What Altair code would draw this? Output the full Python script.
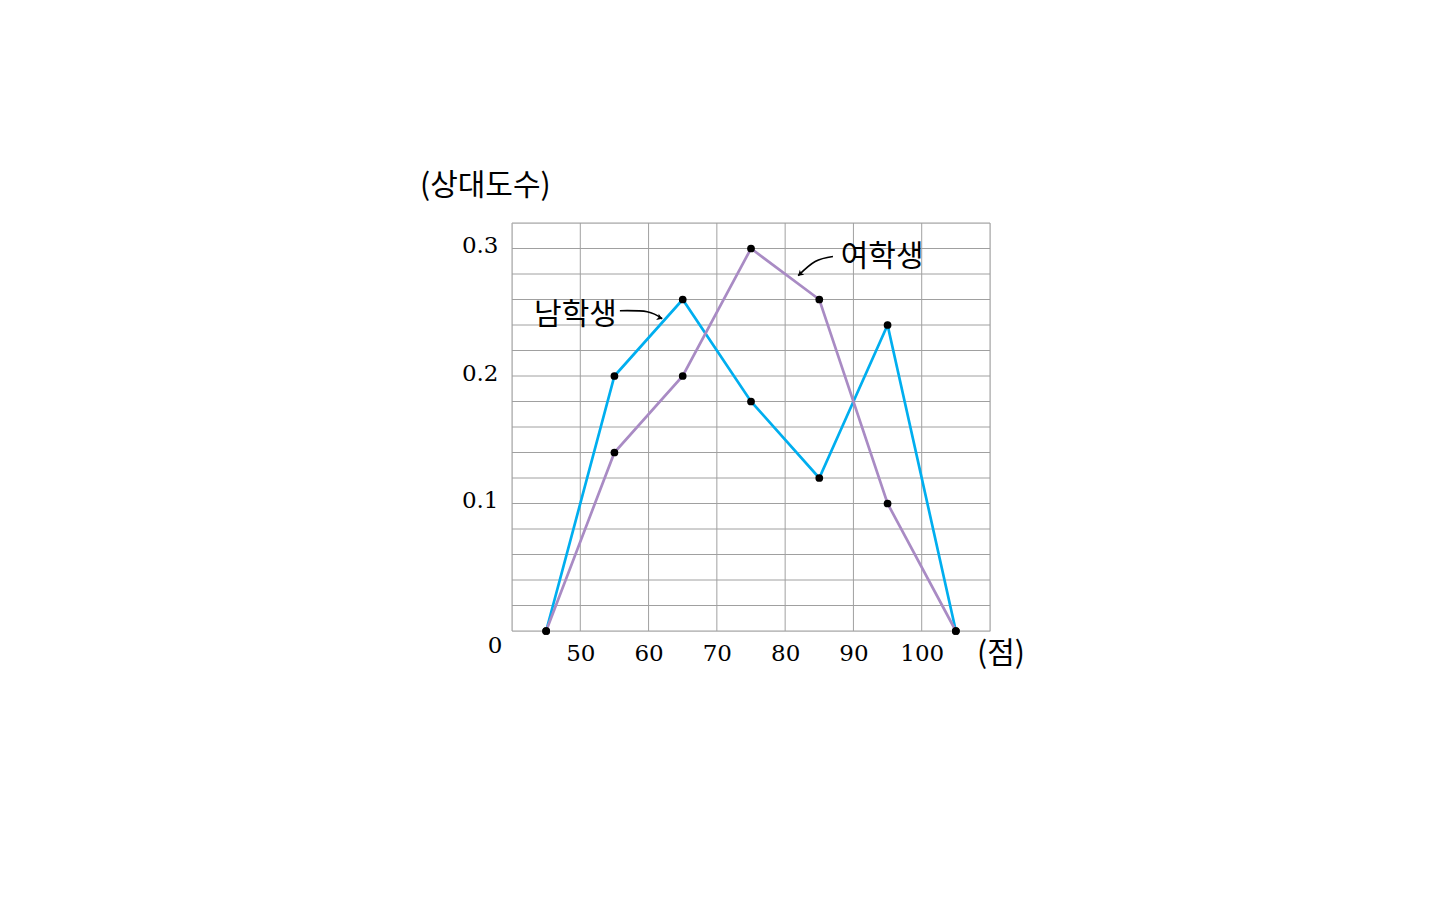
import altair as alt
import pandas as pd

# data
scores = [45, 55, 65, 75, 85, 95, 105]
male = [0, 0.20, 0.26, 0.18, 0.12, 0.24, 0]
female = [0, 0.14, 0.20, 0.30, 0.26, 0.10, 0]
x_grid = [40, 50, 60, 70, 80, 90, 100, 110]
y_grid = [round(i * 0.02, 2) for i in range(17)]
x_ticks = [50, 60, 70, 80, 90, 100]
y_ticks = [0.1, 0.2, 0.3]

# annotation anchors (data units)
lab_text = ["남학생", "여학생"]
lab_x = [49.3, 94.2]
lab_y = [0.248, 0.2937]
arrow_m_x = [55.8, 59.8, 62.0]
arrow_m_y = [0.2512, 0.2504, 0.2449]
arrow_f_x = [87.0, 84.4, 81.9]
arrow_f_y = [0.2937, 0.2898, 0.2787]

XS = alt.Scale(domain=[40, 110], nice=False, zero=False)
YS = alt.Scale(domain=[0, 0.32], nice=False, zero=False)
GRAY = "#a0a0a0"
SERIF = "DejaVu Serif"
KR = "Noto Sans CJK KR"

XA = alt.Axis(values=x_ticks, grid=False, domain=False, ticks=False,
              labelFont=SERIF, labelFontSize=23, labelColor="black",
              labelPadding=11, title=None)
YA = alt.Axis(values=y_ticks, grid=False, domain=False, ticks=False,
              labelFont=SERIF, labelFontSize=23, labelColor="black",
              labelPadding=14, labelOffset=-3, format=".1f", title=None)


def X(f):
    return alt.X(f, scale=XS, axis=XA)


def Y(f):
    return alt.Y(f, scale=YS, axis=YA)


df = pd.DataFrame({
    "score": scores * 2,
    "freq": male + female,
    "sex": ["남학생"] * 7 + ["여학생"] * 7,
})

vgrid = alt.Chart(pd.DataFrame({"x": x_grid})).mark_rule(color=GRAY, strokeWidth=1).encode(
    x=X("x:Q"))
hgrid = alt.Chart(pd.DataFrame({"y": y_grid})).mark_rule(color=GRAY, strokeWidth=1).encode(
    y=Y("y:Q"))

lines = alt.Chart(df).mark_line(strokeWidth=2.7).encode(
    x=X("score:Q"), y=Y("freq:Q"),
    color=alt.Color("sex:N", scale=alt.Scale(domain=["남학생", "여학생"],
                                             range=["#00aeef", "#a98bc4"]), legend=None),
)

points = alt.Chart(df).mark_circle(size=60, color="black", opacity=1).encode(
    x=X("score:Q"), y=Y("freq:Q"))

labels = alt.Chart(pd.DataFrame({"t": lab_text, "x": lab_x, "y": lab_y})).mark_text(
    font=KR, fontSize=30, color="black", baseline="middle").encode(
    x=X("x:Q"), y=Y("y:Q"), text="t:N")

arr_m = alt.Chart(pd.DataFrame({"x": arrow_m_x, "y": arrow_m_y, "o": [0, 1, 2]})).mark_line(
    color="black", strokeWidth=1.6, interpolate="natural").encode(
    x=X("x:Q"), y=Y("y:Q"), order="o:Q")
arr_f = alt.Chart(pd.DataFrame({"x": arrow_f_x, "y": arrow_f_y, "o": [0, 1, 2]})).mark_line(
    color="black", strokeWidth=1.6, interpolate="natural").encode(
    x=X("x:Q"), y=Y("y:Q"), order="o:Q")

head_path = "M-1,-0.65L0,0L-1,0.65L-0.75,0Z"
heads = alt.Chart(pd.DataFrame({"x": [arrow_m_x[-1], arrow_f_x[-1]],
                                "y": [arrow_m_y[-1], arrow_f_y[-1]],
                                "a": [22, 139]})).mark_point(
    shape=head_path, filled=True, color="black", size=110, opacity=1).encode(
    x=X("x:Q"), y=Y("y:Q"), angle=alt.Angle("a:Q", scale=None))

zero = alt.Chart(pd.DataFrame({"x": [40], "y": [0], "t": ["0"]})).mark_text(
    font=SERIF, fontSize=23, color="black", dx=-17, dy=15, baseline="middle").encode(
    x=X("x:Q"), y=Y("y:Q"), text="t:N")

xunit = alt.Chart(pd.DataFrame({"x": [110], "y": [0], "t": ["(점)"]})).mark_text(
    font=KR, fontSize=30, color="black", dx=-13, dy=23, align="left", baseline="middle").encode(
    x=X("x:Q"), y=Y("y:Q"), text="t:N")

yunit = alt.Chart(pd.DataFrame({"x": [40], "y": [0.32], "t": ["(상대도수)"]})).mark_text(
    font=KR, fontSize=30, color="black", dx=-92, dy=-37, align="left", baseline="middle").encode(
    x=X("x:Q"), y=Y("y:Q"), text="t:N")

chart = alt.layer(vgrid, hgrid, lines, points, arr_m, arr_f, heads, labels, zero, xunit, yunit).properties(
    width=478, height=408,
    padding={"left": 504, "top": 215, "right": 100, "bottom": 100},
    autosize="none",
).configure_view(stroke=GRAY, strokeWidth=1).configure(background="white")

chart.save("out.html", embed_options={"renderer": "svg", "actions": False})
